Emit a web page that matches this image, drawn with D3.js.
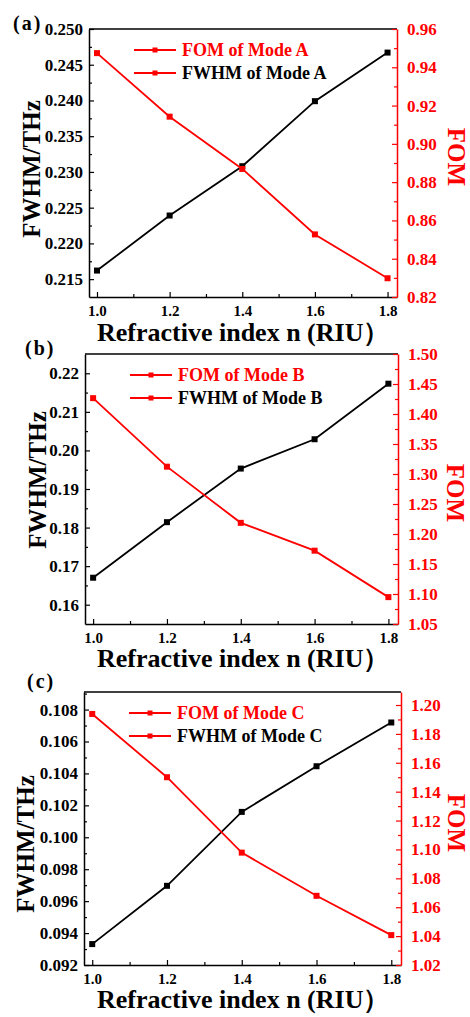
<!DOCTYPE html>
<html>
<head>
<meta charset="utf-8">
<script src="https://cdn.jsdelivr.net/npm/d3@7"></script>
<style>
body { margin: 0; background: #fff; }
</style>
</head>
<body>
<svg id="chart" width="470" height="1017" font-family="'Liberation Serif', 'DejaVu Serif', serif" font-weight="bold"></svg>
<script>
// refractive index n (x values)
var nValues = [1.0, 1.2, 1.4, 1.6, 1.8];
var xTicks = [1.0, 1.2, 1.4, 1.6, 1.8];

// mode A
var fwhmA = [0.2162, 0.2239, 0.2308, 0.2399, 0.2467];
var fomA = [0.9474, 0.9142, 0.8869, 0.8527, 0.8298];
// mode B
var fwhmB = [0.1670, 0.1814, 0.1953, 0.2029, 0.2173];
var fomB = [1.4264, 1.3122, 1.2186, 1.1722, 1.0948];
// mode C
var fwhmC = [0.09331, 0.09696, 0.10159, 0.10445, 0.10719];
var fomC = [1.1938, 1.1500, 1.0978, 1.0679, 1.0407];

var leftTicksA = [0.215, 0.220, 0.225, 0.230, 0.235, 0.240, 0.245, 0.250];
var rightTicksA = [0.82, 0.84, 0.86, 0.88, 0.90, 0.92, 0.94, 0.96];
var leftTicksB = [0.16, 0.17, 0.18, 0.19, 0.20, 0.21, 0.22];
var rightTicksB = [1.05, 1.10, 1.15, 1.20, 1.25, 1.30, 1.35, 1.40, 1.45, 1.50];
var leftTicksC = [0.092, 0.094, 0.096, 0.098, 0.100, 0.102, 0.104, 0.106, 0.108];
var rightTicksC = [1.02, 1.04, 1.06, 1.08, 1.10, 1.12, 1.14, 1.16, 1.18, 1.20];

var panels = [
  {label: "(a)", mode: "A", fwhm: fwhmA, fom: fomA, lt: leftTicksA, rt: rightTicksA,
   ld: [0.2125, 0.250], rd: [0.82, 0.96], lf: ".3f", rf: ".2f", lstep: 0.005, rstep: 0.02,
   box: [89, 397, 29, 297], lab: [13, 30], ytl: [31, 169], ytr: [457, 157], xt: 341},
  {label: "(b)", mode: "B", fwhm: fwhmB, fom: fomB, lt: leftTicksB, rt: rightTicksB,
   ld: [0.155, 0.225], rd: [1.05, 1.50], lf: ".2f", rf: ".2f", lstep: 0.01, rstep: 0.05,
   box: [85, 398, 354, 624], lab: [25, 355], ytl: [37, 480], ytr: [456, 493], xt: 667},
  {label: "(c)", mode: "C", fwhm: fwhmC, fom: fomC, lt: leftTicksC, rt: rightTicksC,
   ld: [0.092, 0.1091], rd: [1.02, 1.209], lf: ".3f", rf: ".2f", lstep: 0.002, rstep: 0.02,
   box: [84, 401, 692, 965], lab: [27, 688], ytl: [25, 844], ytr: [457, 823], xt: 1008}
];

var RED = "#ff0000";
var FONT = "'Liberation Serif', 'DejaVu Serif', serif";
var svg = d3.select("#chart");
svg.append("rect").attr("width", 470).attr("height", 1017).attr("fill", "#fff");

function minors(ticks, step, dom) {
  var out = [];
  ticks.forEach(function(t) {
    [t - step / 2, t + step / 2].forEach(function(m) {
      if (m > dom[0] + 1e-9 && m < dom[1] - 1e-9 && out.every(function(o) { return Math.abs(o - m) > 1e-9; })) out.push(m);
    });
  });
  return out;
}

panels.forEach(function(p) {
  var x0 = p.box[0], x1 = p.box[1], y0 = p.box[2], y1 = p.box[3];
  var x = d3.scaleLinear().domain([0.978, 1.826]).range([x0, x1]);
  var yL = d3.scaleLinear().domain(p.ld).range([y1, y0]);
  var yR = d3.scaleLinear().domain(p.rd).range([y1, y0]);
  var g = svg.append("g");

  // top frame
  g.append("line").attr("x1", x0).attr("x2", x1).attr("y1", y0).attr("y2", y0)
    .attr("stroke", "#000").attr("stroke-width", 1.5);

  // bottom axis
  var gx = g.append("g").attr("transform", "translate(0," + y1 + ")")
    .call(d3.axisBottom(x).tickValues(xTicks).tickFormat(d3.format(".1f")).tickSizeInner(-5).tickSizeOuter(0).tickPadding(8));
  g.append("g").attr("transform", "translate(0," + y1 + ")")
    .call(d3.axisBottom(x).tickValues([1.1, 1.3, 1.5, 1.7]).tickFormat("").tickSizeInner(-3).tickSizeOuter(0))
    .select(".domain").remove();

  // left axis
  var gl = g.append("g").attr("transform", "translate(" + x0 + ",0)")
    .call(d3.axisLeft(yL).tickValues(p.lt).tickFormat(d3.format(p.lf)).tickSizeInner(-5).tickSizeOuter(0).tickPadding(6));
  g.append("g").attr("transform", "translate(" + x0 + ",0)")
    .call(d3.axisLeft(yL).tickValues(minors(p.lt, p.lstep, p.ld)).tickFormat("").tickSizeInner(-3).tickSizeOuter(0))
    .select(".domain").remove();

  // right axis
  var gr = g.append("g").attr("transform", "translate(" + x1 + ",0)")
    .call(d3.axisRight(yR).tickValues(p.rt).tickFormat(d3.format(p.rf)).tickSizeInner(-5).tickSizeOuter(0).tickPadding(10));
  var grm = g.append("g").attr("transform", "translate(" + x1 + ",0)")
    .call(d3.axisRight(yR).tickValues(minors(p.rt, p.rstep, p.rd)).tickFormat("").tickSizeInner(-3).tickSizeOuter(0));
  grm.select(".domain").remove();

  g.selectAll(".domain").attr("stroke-width", 1.5);
  g.selectAll(".tick line").attr("stroke-width", 1.2);
  g.selectAll("g").attr("font-family", FONT).attr("font-weight", "bold");
  gx.selectAll("text").attr("font-size", 15).attr("fill", "#000");
  gl.selectAll("text").attr("font-size", 17).attr("fill", "#000");
  gr.selectAll("text").attr("font-size", 17).attr("fill", RED);
  gr.selectAll(".domain, .tick line").attr("stroke", RED);
  grm.selectAll(".tick line").attr("stroke", RED);

  var line = d3.line().x(function(d, i) { return x(nValues[i]); });

  // FWHM (black, left axis)
  g.append("path").datum(p.fwhm)
    .attr("d", line.y(function(d) { return yL(d); }))
    .attr("fill", "none").attr("stroke", "#000").attr("stroke-width", 1.8);
  g.selectAll(".mk-fwhm").data(p.fwhm).enter().append("rect")
    .attr("x", function(d, i) { return x(nValues[i]) - 3; })
    .attr("y", function(d) { return yL(d) - 3; })
    .attr("width", 6).attr("height", 6).attr("fill", "#000");

  // FOM (red, right axis)
  g.append("path").datum(p.fom)
    .attr("d", line.y(function(d) { return yR(d); }))
    .attr("fill", "none").attr("stroke", RED).attr("stroke-width", 1.8);
  g.selectAll(".mk-fom").data(p.fom).enter().append("rect")
    .attr("x", function(d, i) { return x(nValues[i]) - 3; })
    .attr("y", function(d) { return yR(d) - 3; })
    .attr("width", 6).attr("height", 6).attr("fill", RED);

  // legend
  var items = [["FOM of Mode " + p.mode, RED], ["FWHM of Mode " + p.mode, "#000"]];
  items.forEach(function(it, k) {
    var ly = y0 + 21 + k * 23;
    g.append("line").attr("x1", x0 + 45).attr("x2", x0 + 87).attr("y1", ly).attr("y2", ly)
      .attr("stroke", RED).attr("stroke-width", 1.8);
    g.append("rect").attr("x", x0 + 66 - 2.5).attr("y", ly - 2.5).attr("width", 5).attr("height", 5).attr("fill", RED);
    g.append("text").attr("x", x0 + 93).attr("y", ly + 6).attr("font-size", 18)
      .attr("fill", it[1]).text(it[0]);
  });

  // titles
  g.append("text").attr("transform", "translate(" + p.ytl[0] + "," + p.ytl[1] + ") rotate(-90)")
    .attr("text-anchor", "middle").attr("dy", "0.35em").attr("font-size", 25).text("FWHM/THz");
  g.append("text").attr("transform", "translate(" + p.ytr[0] + "," + p.ytr[1] + ") rotate(90)")
    .attr("text-anchor", "middle").attr("dy", "0.35em").attr("font-size", 25).attr("fill", RED).text("FOM");
  g.append("text").attr("x", 97).attr("y", p.xt).attr("font-size", 26).text("Refractive index n (RIU）");
  g.append("text").attr("x", p.lab[0]).attr("y", p.lab[1]).attr("font-size", 20)
    .attr("letter-spacing", 2).text(p.label);
});
</script>
</body>
</html>
